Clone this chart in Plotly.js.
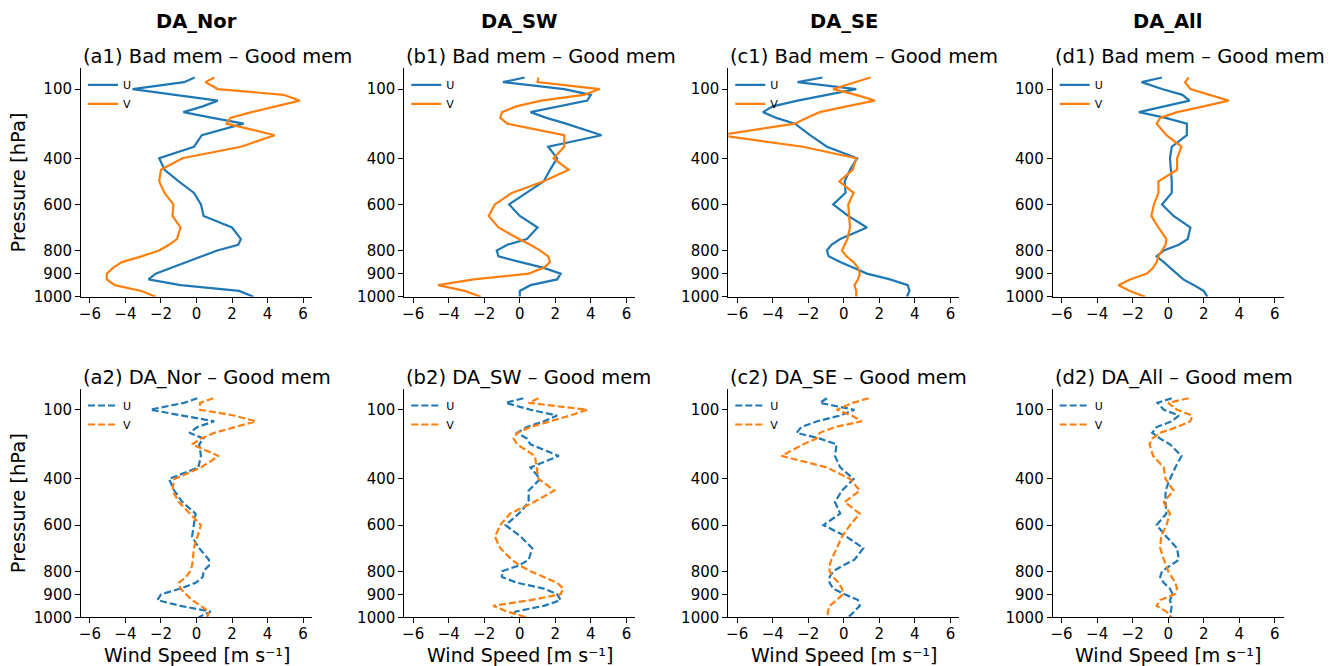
<!DOCTYPE html>
<html>
<head>
<meta charset="utf-8">
<script src="https://cdn.plot.ly/plotly-3.0.1.min.js"></script>
<style>html,body{margin:0;padding:0;background:#fff;}#chart{width:1337px;height:666px;}</style>
</head>
<body>
<div id="chart"></div>
<script>
// Pressure levels (hPa)
const levels = [50,70,100,125,150,175,200,225,250,300,350,400,450,500,550,600,650,700,750,775,800,825,850,875,900,925,950,975,1000];

// Column titles, panel titles, axis titles, tick labels
const columnTitles = ['DA_Nor','DA_SW','DA_SE','DA_All'];
const panelTitles = ['(a1) Bad mem – Good mem','(b1) Bad mem – Good mem','(c1) Bad mem – Good mem','(d1) Bad mem – Good mem',
                     '(a2) DA_Nor – Good mem','(b2) DA_SW – Good mem','(c2) DA_SE – Good mem','(d2) DA_All – Good mem'];
const xAxisTitle = 'Wind Speed [m s\u207B\u00B9]';
const yAxisTitle = 'Pressure [hPa]';
const xTickVals = [-6,-4,-2,0,2,4,6];
const xTickText = ['\u22126','\u22124','\u22122','0','2','4','6'];
const yTickVals = [100,400,600,800,900,1000];
const yTickText = ['100','400','600','800','900','1000'];
const seriesNames = ['U','V'];

// Row 1: Bad mem – Good mem
const a1U = [-0.1,-0.7,-3.6,-1.1,1.2,0.35,-0.74,0.9,2.65,0.3,-0.14,-2.1,-1.8,-1.0,-0.14,0.25,0.4,2.0,2.5,2.35,1.17,0.3,-0.6,-1.45,-2.3,-2.7,-0.9,2.4,3.2];
const a1V = [1.0,0.5,1.2,4.9,5.8,4.4,3.1,1.9,1.7,4.4,2.5,-0.8,-2.0,-2.1,-1.8,-1.3,-1.35,-0.9,-1.1,-1.55,-2.1,-3.1,-4.2,-4.7,-5.05,-5.05,-4.6,-3.1,-2.3];
const b1U = [0.27,-0.95,2.5,4.0,3.8,2.1,0.6,1.5,2.6,4.6,1.6,2.1,1.7,1.35,0.4,-0.6,0.0,1.0,0.4,-0.7,-1.3,-1.2,0.05,1.35,2.3,2.1,0.6,0.0,0.0];
const b1V = [1.05,1.0,4.5,3.6,1.2,-0.2,-1.0,-1.1,-0.7,2.5,2.5,1.9,2.75,1.35,-0.45,-1.4,-1.75,-1.2,-0.05,0.6,1.15,1.6,1.7,1.35,0.5,-2.6,-4.6,-3.1,-2.2];
const c1U = [-1.2,-2.6,0.7,-1.0,-2.6,-4.0,-4.55,-3.8,-2.75,-1.9,-0.95,0.75,0.35,0.05,0.1,-0.6,0.25,1.3,-0.2,-0.7,-0.95,-0.85,-0.2,0.55,1.3,2.6,3.6,3.7,3.55];
const c1V = [1.5,0.7,-0.6,0.7,1.75,0.15,-1.35,-2.1,-2.75,-7.0,-2.3,0.7,0.5,-0.25,0.55,0.25,0.3,0.35,0.2,0.05,-0.1,0.15,0.55,0.8,0.9,0.8,0.6,0.7,0.7];
const d1U = [-0.35,-1.5,-0.35,0.8,1.2,-0.25,-1.65,-0.15,1.05,1.05,0.2,0.1,0.15,0.2,0.2,-0.35,0.3,1.25,1.1,0.6,-0.25,-0.65,-0.25,0.1,0.5,0.85,1.45,2.0,2.2];
const d1V = [1.15,0.95,1.25,2.35,3.4,2.0,0.5,-0.45,-0.65,-0.1,0.75,0.5,0.5,-0.55,-0.55,-0.8,-0.95,-0.55,-0.1,-0.15,-0.35,-0.55,-0.65,-0.85,-1.2,-2.15,-2.8,-2.15,-1.3];

// Row 2: DA_x – Good mem
const a2U = [0.05,-0.7,-2.6,-0.7,1.0,0.05,-0.4,0.4,0.15,0.25,0.1,-1.55,-1.25,-0.8,-0.05,-0.15,-0.25,0.15,0.7,0.7,0.4,0.35,-0.05,-0.9,-2.0,-2.2,-0.9,0.8,0.1];
const a2V = [0.95,0.2,0.2,2.1,3.35,2.1,1.0,0.25,-0.25,1.25,0.25,-1.25,-1.35,-1.0,-0.35,0.25,0.05,-0.15,-0.2,-0.25,-0.35,-0.6,-1.0,-0.9,-0.6,-0.25,0.25,0.7,0.6];
const b2U = [0.2,-0.8,0.6,2.1,1.35,0.4,-0.15,0.4,0.6,2.2,0.6,1.15,0.5,0.5,-0.05,-0.8,0.05,0.7,0.5,-0.05,-1.0,-1.0,-0.15,1.35,2.1,2.3,1.35,-0.25,-0.45];
const b2V = [1.05,0.5,3.8,2.85,1.7,0.6,-0.15,-0.35,-0.15,0.85,0.95,1.05,1.95,0.8,-0.55,-1.1,-1.4,-1.1,-0.45,0.0,0.6,1.35,2.1,2.45,2.3,0.6,-1.5,-0.7,0.4];
const c2U = [-0.95,-1.35,0.6,-0.2,-1.5,-2.4,-2.65,-1.35,-0.4,-0.5,-0.2,0.55,-0.1,-0.5,-0.2,-1.15,0.15,1.1,0.6,-0.05,-0.6,-0.8,-0.8,-0.6,0.05,0.8,0.9,0.55,0.25];
const c2V = [1.4,0.5,-0.4,0.45,1.0,-0.5,-1.35,-1.55,-2.3,-3.5,-0.95,0.35,0.9,0.05,0.9,0.35,-0.1,-0.4,-0.7,-0.8,-0.8,-0.6,-0.3,-0.1,-0.05,-0.4,-0.8,-0.9,-0.9];
const d2U = [0.2,-0.6,-0.25,0.6,0.2,-0.65,-0.9,-0.45,0.1,0.75,0.4,0.1,-0.15,-0.15,-0.1,-0.65,-0.1,0.5,0.6,0.1,-0.35,-0.45,-0.25,0.1,0.25,0.1,0.2,0.15,0.1];
const d2V = [1.15,0.0,0.5,1.35,1.25,0.5,-0.45,-0.9,-1.05,-0.85,-0.25,-0.15,0.3,-0.25,0.1,-0.1,-0.4,-0.45,-0.25,-0.1,0.0,0.2,0.4,0.5,0.35,-0.45,-0.65,-0.1,0.2];

const panelData = [[a1U,a1V],[b1U,b1V],[c1U,c1V],[d1U,d1V],[a2U,a2V],[b2U,b2V],[c2U,c2V],[d2U,d2V]];
const colors = ['#1f77b4','#ff7f0e'];

// Layout geometry (pixels)
const W = 1337, H = 666;
const colLeft = [81, 404.3, 728.3, 1052.7];
const panelW = 231;
const rowTop = [68.3, 389];
const panelH = 228.4;
const FONT = 'DejaVu Sans, Liberation Sans, sans-serif';

const traces = [];
const layout = {
  width: W, height: H,
  margin: {l:0, r:0, t:0, b:0},
  paper_bgcolor: '#fff', plot_bgcolor: '#fff',
  font: {family: FONT, color: '#000', size: 15},
  showlegend: true,
  annotations: []
};

for (let i = 0; i < 8; i++) {
  const row = i < 4 ? 0 : 1, col = i % 4;
  const n = i + 1;
  const xa = 'xaxis' + (n === 1 ? '' : n), ya = 'yaxis' + (n === 1 ? '' : n);
  const xr = 'x' + (n === 1 ? '' : n), yr = 'y' + (n === 1 ? '' : n);
  const lg = 'legend' + (n === 1 ? '' : n);
  const x0 = colLeft[col] / W, x1 = (colLeft[col] + panelW) / W;
  const yTop = 1 - rowTop[row] / H, yBot = 1 - (rowTop[row] + panelH) / H;

  layout[xa] = {
    domain: [x0, x1], anchor: yr, range: [-6.5, 6.5],
    tickmode: 'array', tickvals: xTickVals, ticktext: xTickText,
    ticks: 'outside', ticklen: 5, tickwidth: 1, tickcolor: '#000',
    ticklabelstandoff: -2,
    showline: true, linecolor: '#000', linewidth: 1,
    showgrid: false, zeroline: false, fixedrange: true,
    tickfont: {size: 15, family: FONT, color: '#000'}
  };
  layout[ya] = {
    domain: [yBot, yTop], anchor: xr, range: [1000, 10],
    tickmode: 'array', tickvals: yTickVals, ticktext: yTickText,
    ticks: 'outside', ticklen: 5, tickwidth: 1, tickcolor: '#000',
    showline: true, linecolor: '#000', linewidth: 1,
    showgrid: false, zeroline: false, fixedrange: true,
    tickfont: {size: 15, family: FONT, color: '#000'}
  };
  if (col === 0) {
    layout[ya].title = {text: yAxisTitle, font: {size: 19.5, family: FONT, color: '#000'}, standoff: 2};
  }
  layout[lg] = {
    x: (colLeft[col] + 2) / W, y: yTop - 2 / H, xanchor: 'left', yanchor: 'top',
    bgcolor: 'rgba(0,0,0,0)', borderwidth: 0,
    font: {size: 11, family: FONT, color: '#000'},
    tracegroupgap: 0, itemwidth: 30
  };

  for (let s = 0; s < 2; s++) {
    traces.push({
      type: 'scatter', mode: 'lines',
      x: panelData[i][s], y: levels,
      xaxis: xr, yaxis: yr,
      name: seriesNames[s], legend: lg, showlegend: true,
      line: {color: colors[s], width: 2.2, dash: row === 1 ? '7px,3px' : 'solid'},
      hoverinfo: 'skip'
    });
  }

  layout.annotations.push({
    xref: 'paper', yref: 'paper', x: x0, y: 1 - (rowTop[row] - 11.7) / H,
    xanchor: 'left', yanchor: 'middle', showarrow: false,
    text: panelTitles[i], font: {size: 19.5, family: FONT, color: '#000'}
  });
  if (row === 0) {
    layout.annotations.push({
      xref: 'paper', yref: 'paper', x: (x0 + x1) / 2, y: 1 - 21 / H,
      xanchor: 'center', yanchor: 'middle', showarrow: false,
      text: '<b>' + columnTitles[col] + '</b>', font: {size: 19.5, family: FONT, color: '#000'}
    });
  } else {
    layout.annotations.push({
      xref: 'paper', yref: 'paper', x: (x0 + x1) / 2, y: -1 / H,
      xanchor: 'center', yanchor: 'bottom', showarrow: false, borderpad: 0,
      text: xAxisTitle, font: {size: 19, family: FONT, color: '#000'}
    });
  }
}

Plotly.newPlot('chart', traces, layout, {staticPlot: true, displayModeBar: false});
</script>
</body>
</html>
